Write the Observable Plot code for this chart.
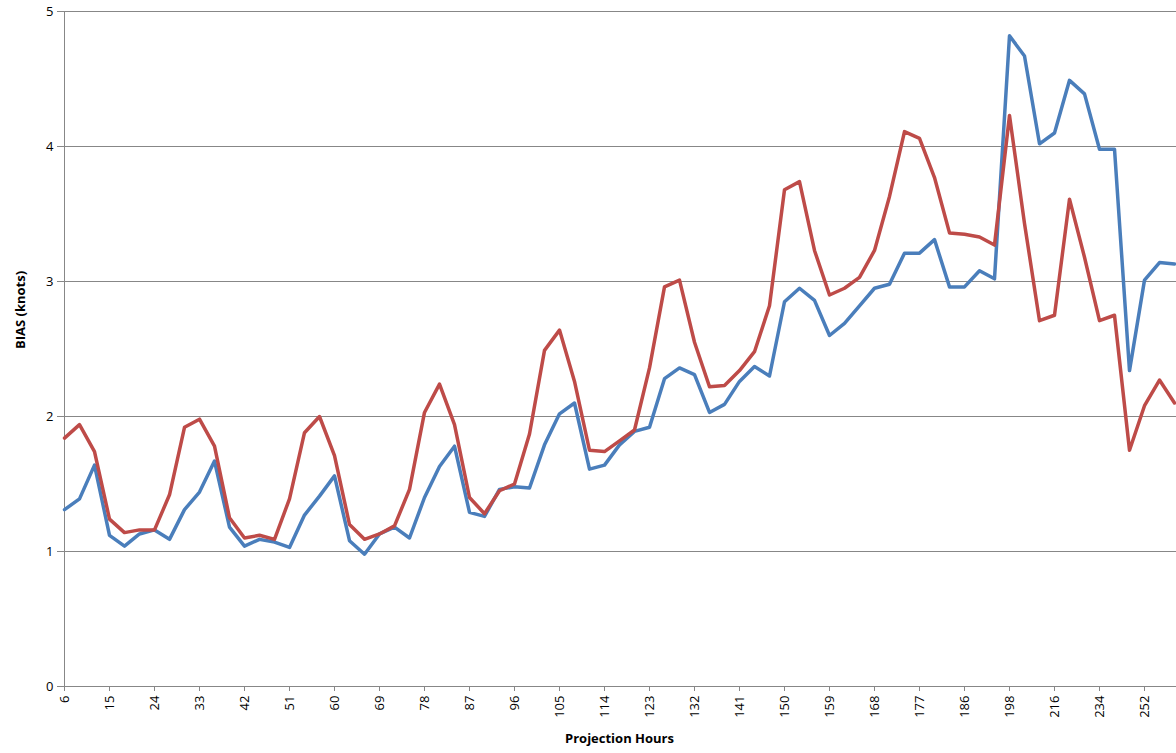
<!DOCTYPE html>
<html>
<head>
<meta charset="utf-8">
<script src="https://cdn.jsdelivr.net/npm/d3@7"></script>
<script src="https://cdn.jsdelivr.net/npm/@observablehq/plot@0.6"></script>
<style>
  body { margin: 0; background: #fff; overflow: hidden; }
  #plot svg { font-family: "Open Sans", "Liberation Sans", sans-serif; }
</style>
</head>
<body>
<div id="plot"></div>
<script>
// projection hours: every 3h to 192, then every 6h
const hours = [6,9,12,15,18,21,24,27,30,33,36,39,42,45,48,51,54,57,60,63,66,69,72,75,78,81,84,87,90,93,96,99,102,105,108,111,114,117,120,123,126,129,132,135,138,141,144,147,150,153,156,159,162,165,168,171,174,177,180,183,186,189,192,198,204,210,216,222,228,234,240,246,252,258,264];

const blue = [1.31,1.39,1.64,1.12,1.04,1.13,1.16,1.09,1.31,1.44,1.67,1.18,1.04,1.09,1.07,1.03,1.27,1.41,1.56,1.08,0.98,1.13,1.18,1.10,1.40,1.63,1.78,1.29,1.26,1.46,1.48,1.47,1.79,2.02,2.10,1.61,1.64,1.79,1.89,1.92,2.28,2.36,2.31,2.03,2.09,2.26,2.37,2.30,2.85,2.95,2.86,2.60,2.69,2.82,2.95,2.98,3.21,3.21,3.31,2.96,2.96,3.08,3.02,4.82,4.67,4.02,4.10,4.49,4.39,3.98,3.98,2.34,3.01,3.14,3.13];

const red = [1.84,1.94,1.74,1.24,1.14,1.16,1.16,1.42,1.92,1.98,1.78,1.25,1.10,1.12,1.09,1.39,1.88,2.00,1.71,1.20,1.09,1.13,1.19,1.46,2.03,2.24,1.94,1.40,1.28,1.45,1.50,1.87,2.49,2.64,2.26,1.75,1.74,1.82,1.90,2.36,2.96,3.01,2.55,2.22,2.23,2.34,2.48,2.82,3.68,3.74,3.23,2.90,2.95,3.03,3.23,3.63,4.11,4.06,3.77,3.36,3.35,3.33,3.27,4.23,3.43,2.71,2.75,3.61,3.18,2.71,2.75,1.75,2.08,2.27,2.10];

const tickHours = hours.filter((h, i) => i % 3 === 0).map(String);
const yTicks = [0, 1, 2, 3, 4, 5];

const rows = vals => hours.map((h, i) => ({ h: String(h), v: vals[i] }));

const plot = Plot.plot({
  width: 1176,
  height: 753,
  marginLeft: 62,
  marginRight: 0,
  marginTop: 11,
  marginBottom: 67,
  style: { fontSize: "13px" },
  x: { type: "point", domain: hours.map(String), padding: 0, label: null },
  y: { domain: [0, 5], label: null },
  marks: [
    Plot.gridY({ ticks: [1, 2, 3, 4, 5], stroke: "#878787", strokeOpacity: 1 }),
    Plot.ruleX([String(hours[0])], { stroke: "#878787" }),
    Plot.ruleY([0], { stroke: "#878787" }),
    Plot.axisX({ ticks: tickHours, tickRotate: -90, tickSize: 5, label: null, stroke: "#878787", fill: "#000" }),
    Plot.axisY({ ticks: yTicks, tickFormat: "d", tickSize: 5, label: null, stroke: "#878787", fill: "#000" }),
    Plot.line(rows(blue), { x: "h", y: "v", stroke: "#4a7ebb", strokeWidth: 3.5 }),
    Plot.line(rows(red), { x: "h", y: "v", stroke: "#be4b48", strokeWidth: 3.5 }),
    Plot.text(["Projection Hours"], { frameAnchor: "bottom", dy: 56, fontWeight: "bold", fontSize: 13 }),
    Plot.text(["BIAS (knots)"], { frameAnchor: "left", dx: -42, rotate: -90, fontWeight: "bold", fontSize: 13 })
  ]
});
document.getElementById("plot").appendChild(plot);
</script>
</body>
</html>
